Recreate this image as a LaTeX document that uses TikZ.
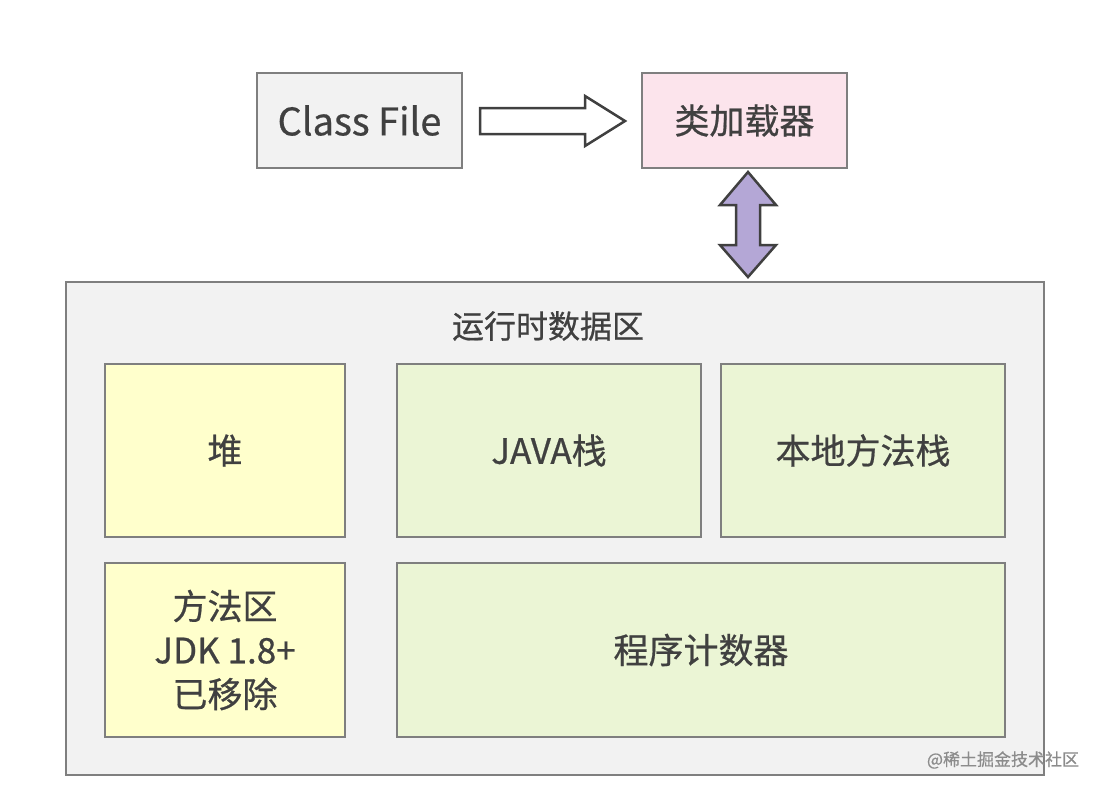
\documentclass[tikz,border=0pt]{standalone}
\usepackage{fontspec}
\setmainfont{Noto Sans CJK SC}[FakeBold=0.6]
\definecolor{boxgray}{HTML}{F2F2F2}
\definecolor{linegray}{HTML}{7F7F7F}
\definecolor{loadpink}{HTML}{FCE4EC}
\definecolor{heapyellow}{HTML}{FFFFCC}
\definecolor{stackgreen}{HTML}{EBF5D5}
\definecolor{arrowpurple}{HTML}{B4A7D6}
\tikzset{
  block/.style={draw=linegray,line width=2.5pt,inner sep=0pt,align=center,text=black!75,font=\fontsize{35}{44}\selectfont},
  heap/.style={block,fill=heapyellow},
  stack/.style={block,fill=stackgreen}
}
\begin{document}
\begin{tikzpicture}[x=1pt,y=-1pt]
    \useasboundingbox (0,0) rectangle (1106,793);
    \node (cf)[block,fill=boxgray,minimum width=205pt,minimum height=95pt,font=\fontsize{38}{44}\selectfont] at (359.5,120.5) {Class File};
    \node (cl)[block,fill=loadpink,minimum width=205pt,minimum height=95pt] at (744.5,120.5) {类加载器};
    % block arrows
    \draw[line width=2.5pt,draw=black!75,fill=white,line join=miter]
      (480,108) -- (585,108) -- (585,96) -- (625,121) -- (585,146) -- (585,134) -- (480,134) -- cycle;
    \draw[line width=2.5pt,draw=black!75,fill=arrowpurple,line join=miter]
      (748,172) -- (776,205) -- (760,205) -- (760,245) -- (776,245) -- (748,277)
      -- (720,245) -- (736,245) -- (736,205) -- (720,205) -- cycle;
    % runtime data area
    \node (rt)[block,fill=boxgray,minimum width=978pt,minimum height=493pt] at (555,528.5) {};
    \node (title)[text=black!75,font=\fontsize{32}{36}\selectfont] at (548,326) {运行时数据区};
    \node (heap)[heap,minimum width=240pt,minimum height=173pt] at (225,450.5) {堆};
    \node (jvs)[stack,minimum width=304pt,minimum height=173pt] at (549,450.5) {JAVA栈};
    \node (nms)[stack,minimum width=284pt,minimum height=173pt] at (863,450.5) {本地方法栈};
    \node (ma)[heap,minimum width=240pt,minimum height=174pt] at (225,650) {方法区\\JDK 1.8+\\已移除};
    \node (pc)[stack,minimum width=608pt,minimum height=174pt] at (701,650) {程序计数器};
    \node (wm)[text=black!45,font=\fontsize{17}{20}\selectfont] at (1003,760) {@稀土掘金技术社区};
\end{tikzpicture}
\end{document}
